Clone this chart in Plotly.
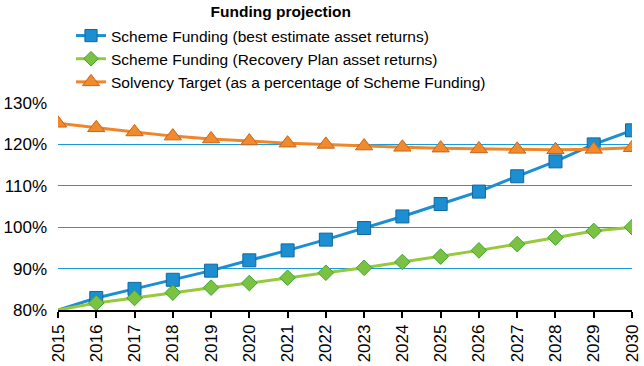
import plotly.graph_objects as go

years = [str(y) for y in range(2015, 2031)]
best_estimate = [80.0, 82.9, 85.1, 87.3, 89.5, 92.0, 94.4, 97.0, 99.8, 102.6, 105.6, 108.6, 112.3, 115.9, 120.0, 123.4]
recovery_plan = [80.0, 81.7, 82.9, 84.2, 85.4, 86.5, 87.8, 89.0, 90.2, 91.6, 92.9, 94.4, 95.9, 97.5, 99.1, 100.0]
solvency_target = [125.1, 124.0, 123.0, 122.0, 121.3, 120.8, 120.3, 120.0, 119.6, 119.3, 119.1, 118.9, 118.8, 118.7, 118.8, 119.2]
y_ticks = [80, 90, 100, 110, 120, 130]
y_tick_labels = ["80%", "90%", "100%", "110%", "120%", "130%"]

names = [
    "Scheme Funding (best estimate asset returns)",
    "Scheme Funding (Recovery Plan asset returns)",
    "Solvency Target (as a percentage of Scheme Funding)",
]

fig = go.Figure()
n = len(years)
fig.add_trace(go.Scatter(
    x=years, y=best_estimate, name=names[0], mode="lines+markers",
    line=dict(color="#1b8fd2", width=3),
    marker=dict(symbol="square", size=[0] + [13] * (n - 1), color="#1b8fd2",
                opacity=1, line=dict(color="#13679e", width=1)),
))
fig.add_trace(go.Scatter(
    x=years, y=recovery_plan, name=names[1], mode="lines+markers",
    line=dict(color="#97c93c", width=3),
    marker=dict(symbol="diamond", size=[0] + [12] * (n - 1), color="#7cc242",
                opacity=1, line=dict(color="#3aa535", width=1)),
))
fig.add_trace(go.Scatter(
    x=years, y=solvency_target, name=names[2], mode="lines+markers",
    line=dict(color="#ef8629", width=3),
    marker=dict(symbol="triangle-up", size=15, color="#f08a2c",
                opacity=1, line=dict(color="#c8641a", width=1)),
))

fig.update_layout(
    width=644, height=366,
    margin=dict(l=58, r=12, t=103, b=56, autoexpand=False),
    paper_bgcolor="white", plot_bgcolor="white",
    font=dict(family="Liberation Sans, Arial, sans-serif", color="black"),
    title=dict(text="<b>Funding projection</b>", x=0.436, xanchor="center",
               y=1 - 12 / 366, yanchor="middle", font=dict(size=15.5)),
    showlegend=True,
    legend=dict(xref="container", yref="container",
                x=71 / 644, xanchor="left", y=1 - 19 / 366, yanchor="top",
                font=dict(size=15.5), tracegroupgap=0, itemwidth=30,
                bgcolor="rgba(0,0,0,0)"),
    xaxis=dict(type="category", range=[0, n - 1], showgrid=False,
               showline=True, linecolor="black", linewidth=1.5,
               ticks="outside", ticklen=6, tickcolor="black", tickwidth=1.5,
               tickangle=-90, tickfont=dict(size=17), automargin=False),
    yaxis=dict(range=[80, 130], tickvals=y_ticks, ticktext=y_tick_labels,
               showgrid=True, gridcolor="#1a9ad6", gridwidth=1,
               zeroline=False, showline=False, ticks="",
               ticklabelstandoff=10, automargin=False,
               tickfont=dict(size=17)),
)
fig.update_xaxes(fixedrange=True)
fig.update_yaxes(fixedrange=True)

fig.write_html("out.html", config={"displayModeBar": False},
               post_script="document.body.style.margin='0px';")
